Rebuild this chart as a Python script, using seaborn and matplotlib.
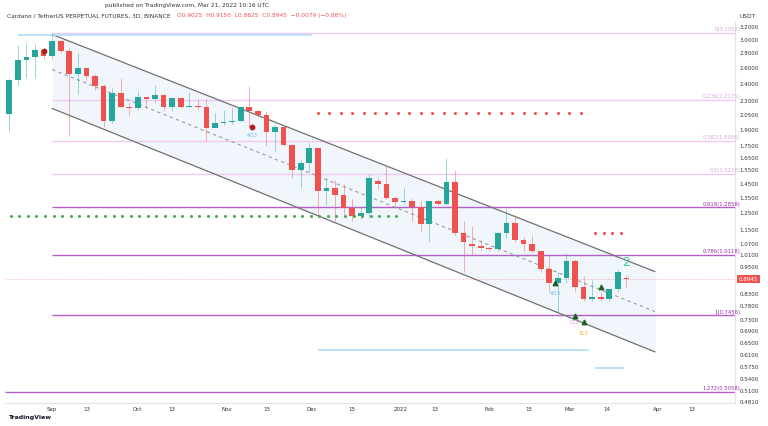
import datetime as dt
import matplotlib
matplotlib.use("Agg")
import matplotlib.pyplot as plt
import matplotlib.dates as mdates
import seaborn as sns
import numpy as np

sns.set_theme(style="white")

start = dt.date(2021, 8, 17)
# 3D candles
opens = [2.06, 2.45, 2.71, 2.75, 2.85, 2.76, 2.98, 2.83, 2.52, 2.60, 2.50, 2.38, 1.99, 2.29, 2.13, 2.12, 2.25, 2.22, 2.27, 2.13,
         2.23, 2.14, 2.15, 2.13, 1.92, 1.97, 1.98, 1.99, 2.13, 2.09, 2.05, 1.88, 1.93, 1.76, 1.55, 1.61, 1.74, 1.40, 1.42, 1.37,
         1.28, 1.23, 1.25, 1.47, 1.45, 1.35, 1.32, 1.33, 1.29, 1.18, 1.33, 1.31, 1.46, 1.13, 1.07, 1.06, 1.05, 1.04, 1.13, 1.19,
         1.09, 1.07, 1.03, 0.94, 0.88, 0.90, 0.98, 0.86, 0.81, 0.82, 0.81, 0.85, 0.9025]
closes = [2.45, 2.71, 2.75, 2.85, 2.76, 2.98, 2.83, 2.52, 2.60, 2.50, 2.38, 1.99, 2.29, 2.13, 2.12, 2.25, 2.22, 2.27, 2.13, 2.23,
          2.13, 2.15, 2.13, 1.92, 1.97, 1.98, 1.99, 2.13, 2.09, 2.05, 1.88, 1.93, 1.76, 1.55, 1.61, 1.74, 1.40, 1.42, 1.37, 1.28,
          1.23, 1.25, 1.49, 1.45, 1.35, 1.32, 1.33, 1.29, 1.18, 1.33, 1.31, 1.46, 1.13, 1.08, 1.06, 1.05, 1.04, 1.13, 1.19, 1.09,
          1.07, 1.03, 0.94, 0.88, 0.90, 0.98, 0.86, 0.81, 0.82, 0.81, 0.85, 0.93, 0.8945]
highs = [2.47, 2.92, 2.95, 2.94, 2.88, 3.10, 2.99, 2.88, 2.80, 2.60, 2.52, 2.40, 2.35, 2.47, 2.19, 2.32, 2.25, 2.39, 2.28, 2.25,
         2.24, 2.30, 2.22, 2.22, 2.07, 2.10, 2.14, 2.14, 2.38, 2.10, 2.09, 1.95, 1.93, 1.76, 1.63, 1.78, 1.74, 1.49, 1.48, 1.45,
         1.34, 1.29, 1.52, 1.50, 1.59, 1.36, 1.42, 1.35, 1.33, 1.33, 1.34, 1.65, 1.55, 1.20, 1.17, 1.09, 1.06, 1.14, 1.28, 1.24,
         1.11, 1.12, 1.03, 1.01, 0.93, 1.02, 0.99, 0.91, 0.89, 0.84, 0.85, 0.94, 0.915]
lows = [1.88, 2.39, 2.47, 2.47, 2.72, 2.72, 2.80, 1.84, 2.28, 2.43, 2.33, 1.93, 1.97, 2.12, 2.04, 2.10, 2.12, 2.19, 2.09, 2.09,
        2.12, 2.13, 2.11, 1.80, 1.93, 1.95, 1.96, 1.98, 1.93, 2.03, 1.75, 1.71, 1.75, 1.49, 1.42, 1.54, 1.22, 1.30, 1.20, 1.24,
        1.20, 1.21, 1.22, 1.41, 1.34, 1.30, 1.31, 1.20, 1.14, 1.08, 1.30, 1.30, 1.12, 0.93, 1.01, 1.03, 1.03, 1.03, 1.10, 1.08,
        1.03, 1.02, 0.93, 0.84, 0.76, 0.88, 0.84, 0.80, 0.80, 0.80, 0.80, 0.84, 0.8625]

fib_ratios = ["0", "0.236", "0.382", "0.5", "0.618", "0.786", "1", "1.272"]
fib_prices = [3.1052, 2.2175, 1.8006, 1.5216, 1.2859, 1.0118, 0.7456, 0.5058]

channel_dates = [dt.date(2021, 9, 1), dt.date(2022, 3, 31)]
channel_upper = [3.08, 0.93]
channel_mid = [2.58, 0.76]
channel_lower = [2.12, 0.62]

yticks = [3.2, 3.0, 2.8, 2.6, 2.4, 2.2, 2.05, 1.9, 1.75, 1.65, 1.55, 1.45, 1.35, 1.25, 1.15, 1.07, 1.01, 0.95,
          0.89, 0.83, 0.78, 0.73, 0.69, 0.65, 0.61, 0.575, 0.54, 0.51, 0.481]
tick_dates = [dt.date(2021, 9, 1), dt.date(2021, 9, 13), dt.date(2021, 10, 1), dt.date(2021, 10, 13),
              dt.date(2021, 11, 1), dt.date(2021, 11, 15), dt.date(2021, 12, 1), dt.date(2021, 12, 15),
              dt.date(2022, 1, 1), dt.date(2022, 1, 13), dt.date(2022, 2, 1), dt.date(2022, 2, 15),
              dt.date(2022, 3, 1), dt.date(2022, 3, 14), dt.date(2022, 4, 1), dt.date(2022, 4, 13)]
tick_labels = ["Sep", "13", "Oct", "13", "Nov", "15", "Dec", "15", "2022", "13", "Feb", "15", "Mar", "14", "Apr", "13"]

GREEN = "#26a69a"
RED = "#ef5350"

fig = plt.figure(figsize=(7.68, 4.26), dpi=100)
ax = fig.add_axes([5 / 768, 23 / 426, 730 / 768, 381 / 426])
ax.set_yscale("log")

dates = [start + dt.timedelta(days=3 * i) for i in range(len(opens))]
x = mdates.date2num(dates)
for xi, o, c, h, l in zip(x, opens, closes, highs, lows):
    col = GREEN if c >= o else RED
    ax.vlines(xi, l, h, color=col, lw=0.7, alpha=0.45, zorder=3)
    ax.bar(xi, abs(c - o) if abs(c - o) > 0.004 else 0.006, bottom=min(o, c), width=2.0,
           color=col, zorder=4, linewidth=0)

# channel
cx = mdates.date2num(channel_dates)
ax.fill_between(cx, channel_lower, channel_upper, color="#e3effa", alpha=0.5, zorder=1, lw=0)
sns.lineplot(x=cx, y=channel_upper, ax=ax, color="#707070", lw=0.9, zorder=2)
sns.lineplot(x=cx, y=channel_lower, ax=ax, color="#707070", lw=0.9, zorder=2)
ax.plot(cx, channel_mid, color="#9a9a9a", lw=0.8, ls=(0, (3, 3)), zorder=2)

# fib levels
xl0 = mdates.date2num(start) - 1.5
xl1 = mdates.date2num(start) + 254
fx0 = mdates.date2num(dt.date(2021, 9, 1))
fx1 = mdates.date2num(dt.date(2022, 4, 23))
for r, p in zip(fib_ratios, fib_prices):
    strong = r in ("0.618", "0.786", "1", "1.272")
    col = "#b35fc7" if strong else "#f0c8f0"
    lx0 = xl0 if r == "1.272" else fx0
    ax.hlines(p, lx0, fx1 + 8, color=col, lw=1.0, zorder=1)
    ax.text(fx1 + 7, p * 1.004, f"{r}({p})", fontsize=3.8, color="#9c27b0" if strong else "#d9a5de",
            ha="right", va="bottom")

# extra levels
ax.hlines(3.07, mdates.date2num(dt.date(2021, 8, 20)), mdates.date2num(dt.date(2021, 12, 1)), color="#b3dcf5", lw=1.2)
ax.hlines(0.625, mdates.date2num(dt.date(2021, 12, 3)), mdates.date2num(dt.date(2022, 3, 8)), color="#b3dcf5", lw=1.2)
ax.hlines(0.572, mdates.date2num(dt.date(2022, 3, 10)), mdates.date2num(dt.date(2022, 3, 20)), color="#b3dcf5", lw=1.2)
rx = np.arange(mdates.date2num(dt.date(2021, 12, 3)), mdates.date2num(dt.date(2022, 3, 8)), 4)
ax.scatter(rx, [2.07] * len(rx), s=1.5, color=RED, zorder=5)
gx = np.arange(xl0 + 2, mdates.date2num(dt.date(2022, 1, 1)), 3)
ax.scatter(gx, [1.23] * len(gx), s=1.5, color="#4caf50", zorder=5)
rx2 = np.arange(mdates.date2num(dt.date(2022, 3, 10)), mdates.date2num(dt.date(2022, 3, 21)), 3)
ax.scatter(rx2, [1.13] * len(rx2), s=1.5, color=RED, zorder=5)

# current price
ax.axhline(closes[-1], color=RED, lw=0.6, ls=(0, (1, 2)), alpha=0.6)
ax.text(x[-1], 0.955, "2", color="#3ccf9a", fontsize=9, ha="center")
ax.text(mdates.date2num(dt.date(2021, 11, 10)), 1.84, "4/13", fontsize=3.5, color="#64b5f6", ha="center")
ax.text(mdates.date2num(dt.date(2022, 2, 24)), 0.83, "4/13", fontsize=3.5, color="#64b5f6", ha="center")
ax.text(mdates.date2num(dt.date(2022, 3, 3)), 0.715, "C13", fontsize=3.5, color="#ce93d8", ha="center")
ax.text(mdates.date2num(dt.date(2022, 3, 6)), 0.675, "S13", fontsize=3.5, color="#ffa726", ha="center")
ax.scatter([mdates.date2num(dt.date(2021, 8, 29)), mdates.date2num(dt.date(2021, 11, 10))], [2.83, 1.93],
           s=10, color="#b71c1c", zorder=6)
ax.scatter([mdates.date2num(dt.date(2022, 2, 24)), mdates.date2num(dt.date(2022, 3, 3)),
            mdates.date2num(dt.date(2022, 3, 6)), mdates.date2num(dt.date(2022, 3, 12))],
           [0.88, 0.745, 0.72, 0.86], marker="^", s=10, color="#1b5e20", zorder=6)

ax.set_xlim(xl0, xl1)
ax.set_ylim(0.479, 3.28)
ax.yaxis.tick_right()
ax.set_yticks(yticks)
ax.set_yticklabels([f"{v:.4f}" for v in yticks])
ax.yaxis.set_minor_locator(matplotlib.ticker.NullLocator())
ax.set_xticks(mdates.date2num(tick_dates))
ax.set_xticklabels(tick_labels)
ax.tick_params(axis="both", labelsize=4, length=0, pad=3, colors="#333333")
for s in ["top", "left"]:
    ax.spines[s].set_visible(False)
for s in ["right", "bottom"]:
    ax.spines[s].set_color("#e0e3eb")
    ax.spines[s].set_linewidth(0.8)

ax.text(1.005, closes[-1], f"{closes[-1]:.4f}", transform=ax.get_yaxis_transform(), fontsize=4,
        color="white", va="center", bbox=dict(boxstyle="square,pad=0.3", fc=RED, ec="none"))

fig.text(105 / 768, 1 - 6 / 426, "published on TradingView.com, Mar 21, 2022 10:16 UTC", fontsize=4.2,
         color="#333333", va="center")
fig.text(7 / 768, 1 - 16 / 426, "Cardano / TetherUS PERPETUAL FUTURES, 3D, BINANCE", fontsize=4.2,
         color="#333333", va="center")
fig.text(177 / 768, 1 - 16 / 426, "O0.9025  H0.9150  L0.8625  C0.8945  \u22120.0079 (\u22120.88%)",
         fontsize=4.2, color=RED, va="center")
fig.text(739 / 768, 1 - 16 / 426, "USDT", fontsize=4.2, color="#333333", va="center")
fig.text(8 / 768, 1 - 418 / 426, "TradingView", fontsize=4.5, color="#131722", va="center", weight="bold")

fig.savefig("out.png", dpi=100)
